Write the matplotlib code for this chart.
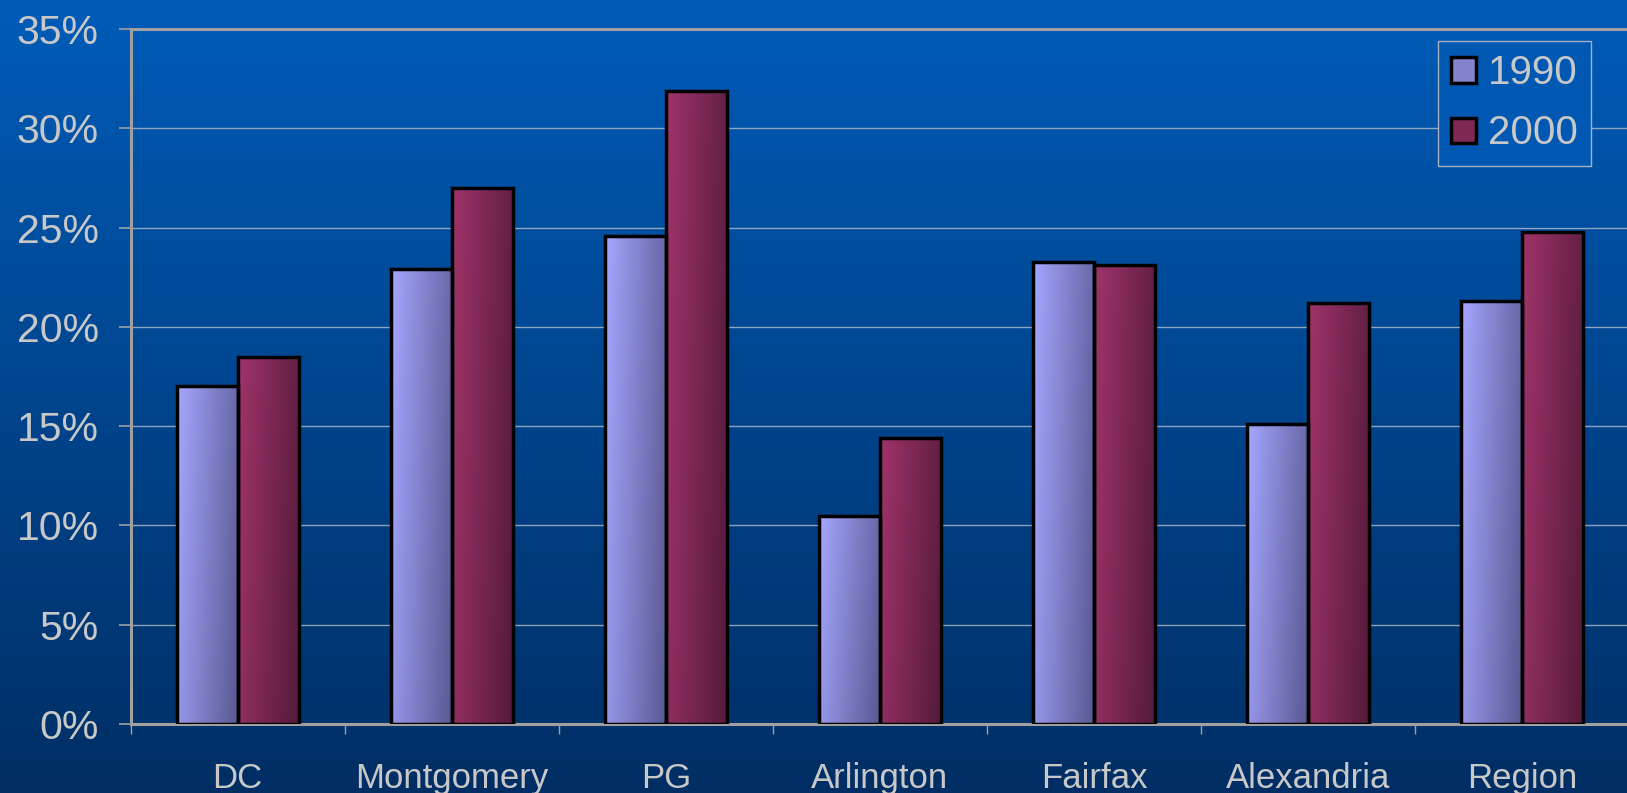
import numpy as np
import matplotlib
matplotlib.use("Agg")
import matplotlib.pyplot as plt
from matplotlib.patches import Patch

plt.rcParams['font.family'] = ['Liberation Sans', 'DejaVu Sans']

categories = ["DC", "Montgomery", "PG", "Arlington", "Fairfax", "Alexandria", "Region"]
years = ["1990", "2000"]
share_1990 = [17.0, 22.9, 24.6, 10.5, 23.25, 15.1, 21.3]
share_2000 = [18.5, 27.0, 31.9, 14.4, 23.1, 21.2, 24.8]
y_ticks = [0, 5, 10, 15, 20, 25, 30, 35]

# (light, dark) ends of each series' gradient fill
series_colors = [((166, 166, 255), (88, 88, 146)),
                 ((160, 52, 106), (84, 26, 58))]
text_color = "#c8c8c8"

fig = plt.figure(figsize=(16.27, 7.93), dpi=100)

# vertical blue backdrop
bg = fig.add_axes([0, 0, 1, 1], zorder=-10)
top = np.array([0, 92, 184]) / 255
bot = np.array([0, 46, 100]) / 255
t = np.linspace(0, 1, 256)[:, None]
grad = top * (1 - t) + bot * t
bg.imshow(grad[:, None, :], aspect="auto", extent=[0, 1, 0, 1])
bg.set_axis_off()

ax = fig.add_axes([0.0803, 0.087, 0.921, 0.8764])
ax.set_facecolor("none")

n = len(categories)
x = np.arange(n)
w = 1 / 3.5

def gradient_fill(bar, light, dark):
    bx, by = bar.get_x(), bar.get_y()
    bw, bh = bar.get_width(), bar.get_height()
    xs = np.linspace(0, 1, 64)[None, :]
    ys = np.linspace(0, 1, 128)[:, None]
    k = 0.8 * xs + 0.2 * ys
    light = np.array(light) / 255
    dark = np.array(dark) / 255
    img = light * (1 - k[..., None]) + dark * k[..., None]
    im = ax.imshow(img, extent=[bx, bx + bw, by, by + bh], origin="upper",
                   aspect="auto", zorder=2, interpolation="bilinear")
    im.set_clip_path(bar)

for i, vals in enumerate([share_1990, share_2000]):
    offs = (i - 0.5) * w
    bars = ax.bar(x + offs, vals, width=w, facecolor="none",
                  edgecolor="black", linewidth=2.5, zorder=3)
    for b in bars:
        gradient_fill(b, *series_colors[i])

ax.set_xlim(-0.5, n - 0.5)
ax.set_ylim(0, 35)
ax.set_yticks(y_ticks)
ax.set_yticklabels([f"{v}%" for v in y_ticks])
ax.set_xticks(x)
ax.set_xticklabels(categories)
ax.set_xticks(np.arange(n + 1) - 0.5, minor=True)
ax.tick_params(axis="x", which="major", length=0, pad=27,
               labelsize=25, labelcolor=text_color)
ax.tick_params(axis="x", which="minor", length=7, width=1, color="#a0a0a0",
               direction="out")
ax.tick_params(axis="y", length=9, width=1.2, color="#a0a0a0", pad=14,
               labelsize=29.5, labelcolor=text_color)
for lbl in ax.get_yticklabels():
    lbl.set_verticalalignment("center_baseline")

ax.yaxis.grid(True, color="#b4bccc", linewidth=1, alpha=0.8)
ax.set_axisbelow(True)
for side in ["left", "bottom", "top"]:
    ax.spines[side].set_color("#a0a0a0")
    ax.spines[side].set_linewidth(2.2)
ax.spines["right"].set_visible(False)

handles = [Patch(facecolor=np.array(series_colors[i][0]) * 0.55 / 255
                 + np.array(series_colors[i][1]) * 0.45 / 255,
                 edgecolor="black", linewidth=2.5) for i in range(2)]
leg = ax.legend(handles, years, loc="upper right",
                bbox_to_anchor=(0.9745, 0.9827), borderaxespad=0,
                fontsize=29, handlelength=0.6, handleheight=0.6,
                handletextpad=0.3, labelspacing=0.55, borderpad=0.33,
                fancybox=False, facecolor="#0058b2", edgecolor="#a8b0c0",
                framealpha=1)
leg.get_frame().set_linewidth(1)
for txt in leg.get_texts():
    txt.set_color(text_color)

fig.savefig("out.png", dpi=100)
